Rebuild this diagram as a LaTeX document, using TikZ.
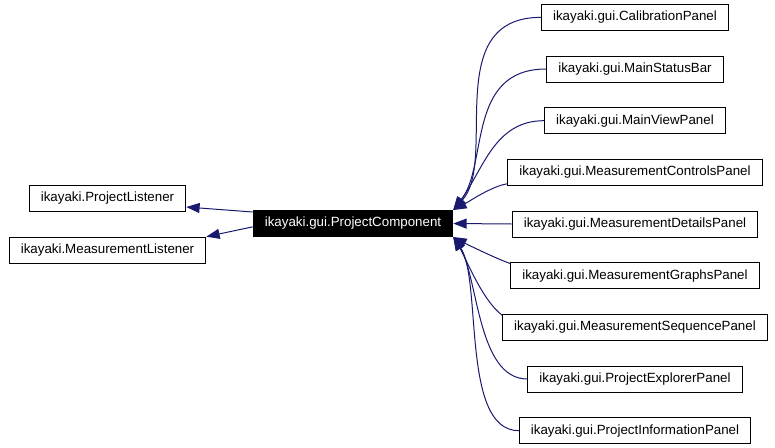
\documentclass[tikz,border=0pt]{standalone}
\usepackage{fontspec}
\setmainfont{Liberation Sans}
\usepackage{tikz}
\usetikzlibrary{arrows.meta,positioning}
\definecolor{edgeblue}{RGB}{25,25,112}

\begin{document}
\begin{tikzpicture}[
  x=0.75pt, y=-0.75pt, node distance=18.5pt,
  cls/.style={draw=black, line width=0.75pt, fill=white, inner xsep=8.7pt, inner ysep=0pt,
              minimum height=19.5pt, font=\fontsize{10}{12}\selectfont},
  cur/.style={cls, fill=black, text=white},
  inh/.style={draw=edgeblue, line width=0.75pt, -{Triangle[length=10pt,width=7.5pt]}}]
\useasboundingbox (0,0) rectangle (775,447);
\node[cur] (pc) at (353,223.5) {ikayaki.gui.ProjectComponent};
\node[cls] (pl) at (107.5,198.5) {ikayaki.ProjectListener};
\node[cls, below=of pl] (ml) {ikayaki.MeasurementListener};
\node[cls] (det) at (635,224) {ikayaki.gui.MeasurementDetailsPanel};
\node[cls, above=of det] (ctl) {ikayaki.gui.MeasurementControlsPanel};
\node[cls, above=of ctl] (mvp) {ikayaki.gui.MainViewPanel};
\node[cls, above=of mvp] (msb) {ikayaki.gui.MainStatusBar};
\node[cls, above=of msb] (cal) {ikayaki.gui.CalibrationPanel};
\node[cls, below=of det] (grp) {ikayaki.gui.MeasurementGraphsPanel};
\node[cls, below=of grp] (seq) {ikayaki.gui.MeasurementSequencePanel};
\node[cls, below=of seq] (exp) {ikayaki.gui.ProjectExplorerPanel};
\node[cls, below=of exp] (inf) {ikayaki.gui.ProjectInformationPanel};
% interfaces
\draw[inh] ([yshift=-1.5pt]pc.north west) -- ([yshift=3.75pt]pl.south east);
\draw[inh] ([yshift=-2.5pt]pc.west) -- (ml.north east);
% subclasses
\draw[inh] (cal.west) .. controls +(-101,0) and +(45,-49) .. (pc.north east);
\draw[inh] (msb.west) .. controls +(-80,0) and +(35,-45) .. (pc.north east);
\draw[inh] (mvp.west) .. controls +(-50,0) and +(30,-40) .. (pc.north east);
\draw[inh] ([yshift=1.5pt]ctl.south west) .. controls +(-15,2) and +(15,-8) .. (pc.north east);
\draw[inh] (det.west) -- (pc.east);
\draw[inh] ([yshift=-1pt]grp.north west) .. controls +(-12,-4) and +(15,8) .. (pc.south east);
\draw[inh] ([yshift=-1pt]seq.north west) .. controls +(-20,-15) and +(12,20) .. (pc.south east);
\draw[inh] (exp.west) .. controls +(-50,0) and +(25,40) .. (pc.south east);
\draw[inh] (inf.west) .. controls +(-58,0) and +(29,43) .. (pc.south east);
\end{tikzpicture}
\end{document}
